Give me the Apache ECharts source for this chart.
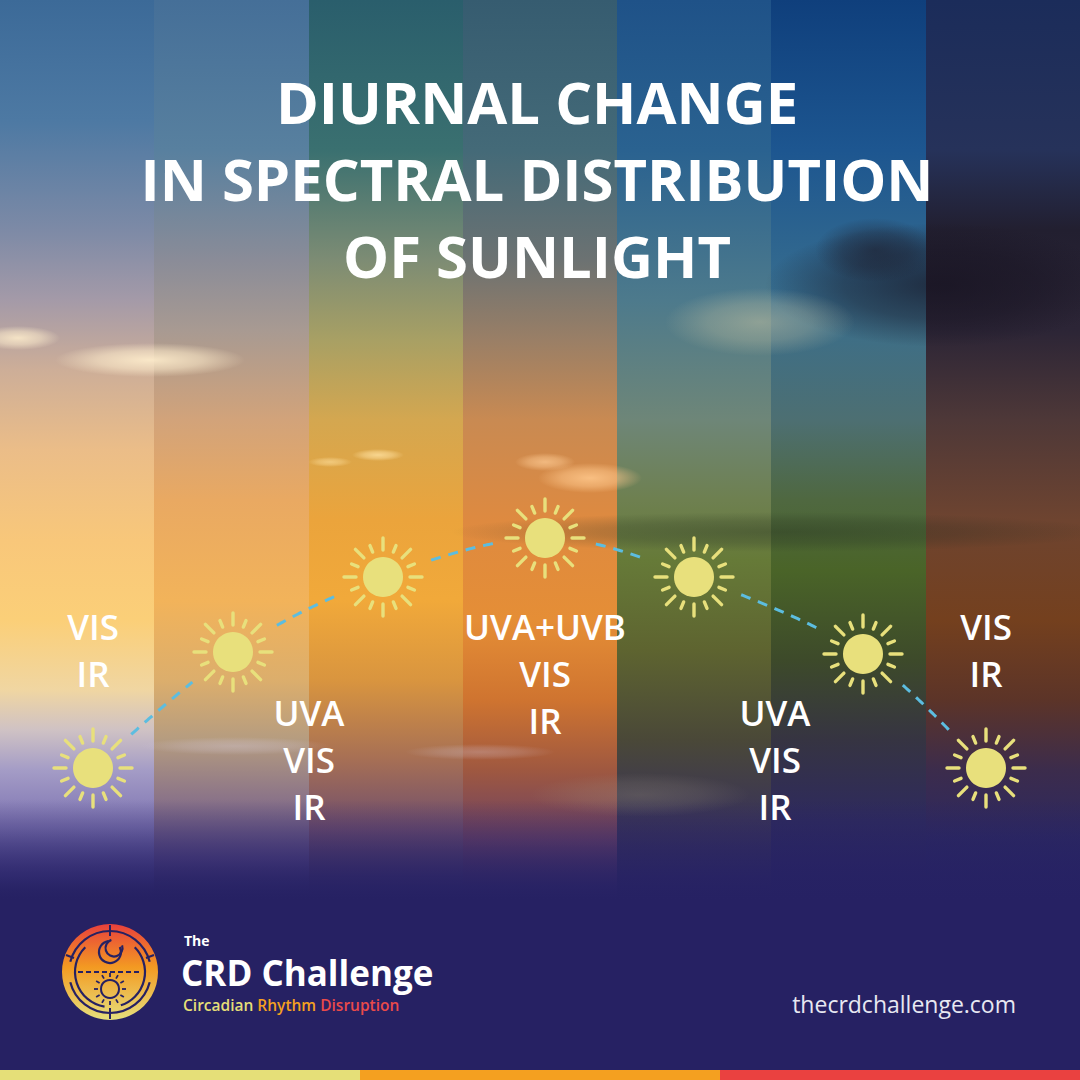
<!DOCTYPE html>
<html lang="en">
<head>
<meta charset="UTF-8">
<title>Diurnal change in spectral distribution of sunlight</title>
<script src="https://cdn.jsdelivr.net/npm/echarts@6.0.0/dist/echarts.min.js"></script>
<style>
	html, body {margin: 0; padding: 0; background: #262163;}
	#chart {width: 1080px; height: 1080px;}
</style>
</head>
<body>
<div id="chart"></div>
<script>
	// sun path over the day: time axis 0-1080, elevation axis 0-1080
	let sunTime = [93, 233, 383, 545, 694, 863, 986];
	let sunElevation = [312, 428, 503, 542, 503, 426, 312];

	// spectral content reaching the ground at each stage
	let bandText = ['VIS\nIR', 'UVA\nVIS\nIR', 'UVA+UVB\nVIS\nIR', 'UVA\nVIS\nIR', 'VIS\nIR'];
	let bandTime = [93, 309, 545, 775, 986];
	let bandElevation = [454, 368, 454, 368, 454];

	let titleLines = ['DIURNAL CHANGE', 'IN SPECTRAL DISTRIBUTION', 'OF SUNLIGHT'];

	const NAVY = '#262163';
	const SUN = '#e8e07c';
	const LINE_H = 47;

	// sky tint of the seven vertical strips (y px, colour)
	let strips = [
		[[0,'#3c6a98'],[120,'#4d79a3'],[230,'#7d8aa6'],[300,'#a49aa8'],[370,'#cdae98'],[450,'#ebbd88'],[540,'#f8c77a'],[620,'#fbcf78'],[690,'#f0d6a2'],[730,'#cfc2c4'],[770,'#a49cc6'],[830,'#7a70b0'],[880,'#4a4190'],[900,'#2d2a6e']],
		[[0,'#456f98'],[150,'#58809f'],[260,'#8a8c98'],[330,'#a89a92'],[420,'#d2a37a'],[500,'#e9a962'],[600,'#f2b35a'],[680,'#dcae6c'],[740,'#b59c80'],[800,'#8a7388'],[860,'#5a4a88'],[900,'#2e2a70']],
		[[0,'#2a5e6c'],[150,'#3a7070'],[260,'#7d8c74'],[340,'#a8a064'],[420,'#d4a750'],[520,'#eba43c'],[600,'#f1a93a'],[680,'#d9953f'],[760,'#a66f55'],[830,'#6e4d6e'],[900,'#2e2a70']],
		[[0,'#365c70'],[150,'#446a78'],[260,'#6c7272'],[340,'#9a7f66'],[420,'#c98a52'],[520,'#de8a40'],[620,'#e58e36'],[700,'#cf7430'],[770,'#9f5840'],[840,'#6a4166'],[900,'#2e2a70']],
		[[0,'#1f5288'],[150,'#2a6290'],[300,'#4d7a8c'],[420,'#6e8678'],[500,'#6e8050'],[560,'#667a38'],[650,'#5e6430'],[740,'#4a4838'],[820,'#3a3458'],[900,'#2a2668']],
		[[0,'#0f3f7c'],[150,'#1d5690'],[300,'#386e8e'],[420,'#4d6f72'],[500,'#4f6840'],[570,'#4a6428'],[660,'#3d4a2a'],[740,'#363442'],[820,'#2e2a5e'],[900,'#282468']],
		[[0,'#1b2c5a'],[150,'#26325a'],[230,'#221f30'],[330,'#2c2536'],[420,'#4e3838'],[520,'#6e4430'],[620,'#74401e'],[700,'#5c3428'],[770,'#3c2c4c'],[840,'#2c2862'],[900,'#282468']]
	];

	// soft cloud blobs [cx, cy, rx, ry, rgb, alpha]
	let clouds = [
		[150, 360, 95, 17, '255,238,205', 0.9],
		[18, 338, 42, 12, '255,238,205', 0.85],
		[940, 285, 175, 62, '22,18,32', 0.7],
		[875, 250, 60, 32, '30,30,45', 0.6],
		[760, 322, 95, 34, '215,205,165', 0.45],
		[590, 478, 52, 15, '255,200,140', 0.85],
		[545, 462, 30, 9, '255,205,150', 0.7],
		[378, 455, 26, 6, '255,225,160', 0.8],
		[330, 462, 22, 5, '255,225,160', 0.6],
		[780, 532, 330, 20, '30,40,30', 0.35],
		[235, 746, 95, 9, '215,205,225', 0.35],
		[480, 752, 75, 8, '215,205,225', 0.3],
		[640, 795, 110, 22, '170,160,130', 0.25]
	];

	let chart = echarts.init(document.getElementById('chart'), null, {renderer: 'svg'});

	let bg = [];
	strips.forEach(function (stops, i) {
		bg.push({
			type: 'rect', z: -10,
			shape: {x: Math.round(i * 1080 / 7), y: 0, width: Math.ceil(1080 / 7) + 1, height: 900},
			style: {fill: new echarts.graphic.LinearGradient(0, 0, 0, 1,
				stops.map(s => ({offset: s[0] / 900, color: s[1]})))}
		});
	});
	clouds.forEach(function (c) {
		bg.push({
			type: 'ellipse', z: -9,
			shape: {cx: c[0], cy: c[1], rx: c[2], ry: c[3]},
			style: {fill: new echarts.graphic.RadialGradient(0.5, 0.5, 0.5, [
				{offset: 0, color: 'rgba(' + c[4] + ',' + c[5] + ')'},
				{offset: 0.55, color: 'rgba(' + c[4] + ',' + (c[5] * 0.6) + ')'},
				{offset: 1, color: 'rgba(' + c[4] + ',0)'}
			])}
		});
	});
	// fade into the navy footer
	bg.push({
		type: 'rect', z: -8,
		shape: {x: 0, y: 800, width: 1080, height: 100},
		style: {fill: new echarts.graphic.LinearGradient(0, 0, 0, 1, [
			{offset: 0, color: 'rgba(38,33,99,0)'},
			{offset: 1, color: 'rgba(38,33,99,1)'}
		])}
	});
	bg.push({type: 'rect', z: -8, shape: {x: 0, y: 899, width: 1080, height: 172}, style: {fill: NAVY}});
	['#e5df78', '#f4a020', '#ea4140'].forEach(function (col, i) {
		bg.push({type: 'rect', z: -7, shape: {x: i * 360, y: 1070, width: 360, height: 10}, style: {fill: col}});
	});

	// title
	bg.push({
		type: 'text', z: 10, x: 537, y: 178,
		style: {
			text: titleLines.join('\n'), fill: '#ffffff',
			fontFamily: 'Open Sans', fontWeight: 700, fontSize: 58, lineHeight: 77,
			align: 'center', verticalAlign: 'middle'
		}
	});

	// logo badge
	let lx = 110, ly = 972;
	let stroke = {stroke: NAVY, lineWidth: 2.2, fill: null};
	let logoParts = [
		{type: 'circle', shape: {cx: lx, cy: ly, r: 48},
			style: {fill: new echarts.graphic.LinearGradient(0, 0, 0, 1, [
				{offset: 0, color: '#e8403c'}, {offset: 0.45, color: '#f39a22'}, {offset: 1, color: '#e6df7c'}])}},
		{type: 'arc', shape: {cx: lx, cy: ly, r: 41, startAngle: 1.08 * Math.PI, endAngle: 1.92 * Math.PI}, style: stroke},
		{type: 'arc', shape: {cx: lx, cy: ly, r: 41, startAngle: 0.08 * Math.PI, endAngle: 0.92 * Math.PI}, style: stroke},
		{type: 'arc', shape: {cx: lx, cy: ly, r: 35, startAngle: 0.55 * Math.PI, endAngle: 1.25 * Math.PI}, style: stroke},
		{type: 'arc', shape: {cx: lx, cy: ly, r: 35, startAngle: 1.75 * Math.PI, endAngle: 2.4 * Math.PI}, style: stroke},
		{type: 'line', shape: {x1: lx, y1: ly - 47, x2: lx, y2: ly - 36}, style: {stroke: NAVY, lineWidth: 2}},
		{type: 'line', shape: {x1: lx, y1: ly + 36, x2: lx, y2: ly + 47}, style: {stroke: NAVY, lineWidth: 2}},
		{type: 'line', shape: {x1: lx - 44, y1: ly - 17, x2: lx - 36, y2: ly - 14}, style: {stroke: NAVY, lineWidth: 2}},
		{type: 'line', shape: {x1: lx + 36, y1: ly - 14, x2: lx + 44, y2: ly - 17}, style: {stroke: NAVY, lineWidth: 2}},
		{type: 'line', shape: {x1: lx - 32, y1: ly, x2: lx + 32, y2: ly}, style: {stroke: NAVY, lineWidth: 2, lineDash: [5, 3]}},
		// crescent moon
		{type: 'arc', shape: {cx: lx, cy: ly - 20, r: 11, startAngle: -0.15 * Math.PI, endAngle: 1.45 * Math.PI}, style: stroke},
		{type: 'arc', shape: {cx: lx + 4, cy: ly - 24, r: 8.5, startAngle: -0.1 * Math.PI, endAngle: 1.4 * Math.PI}, style: stroke},
		{type: 'circle', shape: {cx: lx, cy: ly + 17, r: 9}, style: {stroke: NAVY, lineWidth: 2, fill: null}}
	];
	for (let k = 0; k < 12; k++) {
		let a = k * Math.PI / 6;
		logoParts.push({type: 'line', shape: {
			x1: lx + 12 * Math.cos(a), y1: ly + 17 + 12 * Math.sin(a),
			x2: lx + 16 * Math.cos(a), y2: ly + 17 + 16 * Math.sin(a)},
			style: {stroke: NAVY, lineWidth: 1.8}});
	}
	bg.push({type: 'group', z: 10, children: logoParts});

	bg.push({type: 'text', z: 10, x: 184, y: 940,
		style: {text: 'The', fill: '#fff', fontFamily: 'Open Sans', fontWeight: 700, fontSize: 14, lineHeight: 14, verticalAlign: 'middle'}});
	bg.push({type: 'text', z: 10, x: 181, y: 972,
		style: {text: 'CRD Challenge', fill: '#fff', fontFamily: 'Open Sans', fontWeight: 700, fontSize: 35, lineHeight: 32, verticalAlign: 'middle'}});
	bg.push({type: 'text', z: 10, x: 183, y: 1005,
		style: {
			text: '{a|Circadian} {b|Rhythm} {c|Disruption}',
			fontFamily: 'Open Sans', fontWeight: 600, fontSize: 15.5, lineHeight: 15, verticalAlign: 'middle',
			rich: {
				a: {fill: '#e5df78', fontFamily: 'Open Sans', fontWeight: 600, fontSize: 15.5, lineHeight: 15},
				b: {fill: '#f4a020', fontFamily: 'Open Sans', fontWeight: 600, fontSize: 15.5, lineHeight: 15},
				c: {fill: '#ea4a4a', fontFamily: 'Open Sans', fontWeight: 600, fontSize: 15.5, lineHeight: 15}
			}
		}});
	bg.push({type: 'text', z: 10, x: 1016, y: 1004,
		style: {text: 'thecrdchallenge.com', fill: '#e8e8f2', fontFamily: 'Open Sans', fontWeight: 400, fontSize: 23,
			align: 'right', verticalAlign: 'middle'}});

	function renderSun(params, api) {
		let c = api.coord([api.value(0), api.value(1)]);
		let parts = [{type: 'circle', shape: {cx: c[0], cy: c[1], r: 20}, style: {fill: SUN}}];
		for (let k = 0; k < 16; k++) {
			let a = k * Math.PI / 8;
			let r1 = 27, r2 = k % 2 === 0 ? 39 : 34;
			parts.push({type: 'line', shape: {
				x1: c[0] + r1 * Math.cos(a), y1: c[1] + r1 * Math.sin(a),
				x2: c[0] + r2 * Math.cos(a), y2: c[1] + r2 * Math.sin(a)},
				style: {stroke: SUN, lineWidth: 3.4, lineCap: 'round'}});
		}
		return {type: 'group', children: parts};
	}

	// dashed path between suns, leaving a gap round each one
	function renderArc(params, api) {
		let i = params.dataIndex;
		let pts = sunTime.map((t, k) => api.coord([t, sunElevation[k]]));
		let p0 = pts[Math.max(i - 1, 0)], p1 = pts[i], p2 = pts[i + 1], p3 = pts[Math.min(i + 2, pts.length - 1)];
		let out = [];
		for (let s = 0; s <= 100; s++) {
			let t = s / 100, t2 = t * t, t3 = t2 * t;
			let p = [0, 1].map(d => 0.5 * (2 * p1[d] + (-p0[d] + p2[d]) * t
				+ (2 * p0[d] - 5 * p1[d] + 4 * p2[d] - p3[d]) * t2
				+ (-p0[d] + 3 * p1[d] - 3 * p2[d] + p3[d]) * t3));
			let d1 = Math.hypot(p[0] - p1[0], p[1] - p1[1]);
			let d2 = Math.hypot(p[0] - p2[0], p[1] - p2[1]);
			if (d1 > 50 && d2 > 50) out.push(p);
		}
		return {type: 'polyline', shape: {points: out}, style: {stroke: '#5cbde0', lineWidth: 3, lineDash: [10, 8], fill: null}};
	}

	function renderLabel(params, api) {
		let i = params.dataIndex;
		let c = api.coord([bandTime[i], bandElevation[i]]);
		return {type: 'text', x: c[0], y: c[1] - LINE_H / 2,
			style: {text: bandText[i], fill: '#ffffff', fontFamily: 'Open Sans', fontWeight: 600, fontSize: 35,
				lineHeight: LINE_H, align: 'center', verticalAlign: 'top'}};
	}

	let options = {
		animation: false,
		grid: {left: 0, right: 0, top: 0, bottom: 0},
		xAxis: {type: 'value', min: 0, max: 1080, show: false},
		yAxis: {type: 'value', min: 0, max: 1080, show: false},
		graphic: bg,
		series: [
			{type: 'custom', name: 'path', z: 3, renderItem: renderArc,
				data: sunTime.slice(0, -1).map((t, i) => [t, sunElevation[i]])},
			{type: 'custom', name: 'sun', z: 4, renderItem: renderSun,
				data: sunTime.map((t, i) => [t, sunElevation[i]])},
			{type: 'custom', name: 'spectrum', z: 5, renderItem: renderLabel,
				data: bandTime.map((t, i) => [t, bandElevation[i]])}
		]
	};
	chart.setOption(options);
</script>
</body>
</html>
